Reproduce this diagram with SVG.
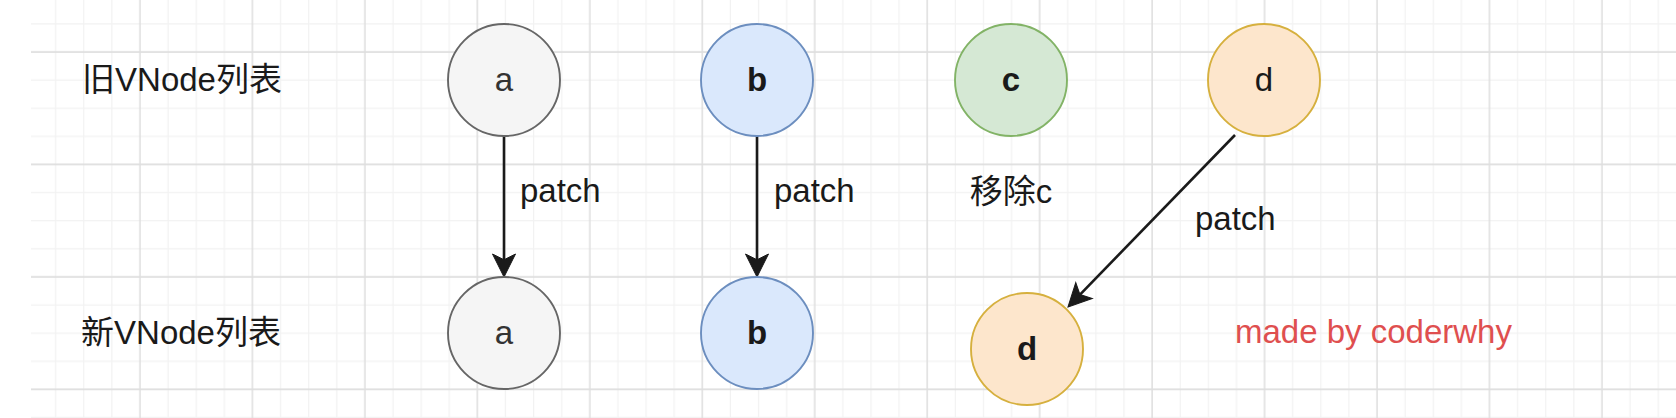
<svg xmlns="http://www.w3.org/2000/svg" width="1676" height="418" viewBox="0 0 1676 418">
<style>
text{font-family:"Liberation Sans","Noto Sans CJK SC",sans-serif;font-size:33px;fill:#1a1a1a}
.mid{text-anchor:middle}
.bold{font-weight:bold}
.ga{fill:#f5f5f5;stroke:#666666;stroke-width:1.9}
.gb{fill:#dae8fc;stroke:#6c8ebf;stroke-width:1.9}
.gc{fill:#d5e8d4;stroke:#82b366;stroke-width:1.9}
.gd{fill:#fde6cc;stroke:#d6b03e;stroke-width:1.9}
.ta{fill:#333333}
.edge{fill:none;stroke:#1a1a1a;stroke-width:2.6;marker-end:url(#arr)}
.minor{stroke:#f2f2f2;stroke-width:1.2}
.major{stroke:#dedede;stroke-width:1.5}
.red{fill:#df4f4f}
</style>
<defs>
<pattern id="grid" patternUnits="userSpaceOnUse" x="125.94" y="37.94" width="112.46" height="112.46">
<line class="minor" x1="42.17" y1="0" x2="42.17" y2="112.46"/>
<line class="minor" x1="70.29" y1="0" x2="70.29" y2="112.46"/>
<line class="minor" x1="98.4" y1="0" x2="98.4" y2="112.46"/>
<line class="minor" x1="0" y1="42.17" x2="112.46" y2="42.17"/>
<line class="minor" x1="0" y1="70.29" x2="112.46" y2="70.29"/>
<line class="minor" x1="0" y1="98.4" x2="112.46" y2="98.4"/>
<line class="major" x1="14.06" y1="0" x2="14.06" y2="112.46"/>
<line class="major" x1="0" y1="14.06" x2="112.46" y2="14.06"/>
</pattern>
<marker id="arr" markerUnits="userSpaceOnUse" orient="auto" overflow="visible" refX="0" refY="0" markerWidth="30" markerHeight="30">
<path d="M17.25,0 L-5.75,-11.5 L0,0 L-5.75,11.5 Z" fill="#1a1a1a" stroke="#1a1a1a" stroke-width="1" stroke-linejoin="miter"/>
</marker>
</defs>
<rect x="0" y="0" width="1676" height="418" fill="#ffffff"/>
<rect x="31" y="0" width="1645" height="418" fill="url(#grid)"/>

<g id="connectors">
<line class="edge" x1="504" y1="136" x2="504" y2="259.75"/>
<text x="520" y="202">patch</text>
<line class="edge" x1="757" y1="136" x2="757" y2="259.75"/>
<text x="774" y="202">patch</text>
<line class="edge" x1="1235" y1="135" x2="1080" y2="294.6"/>
<text x="1195" y="230">patch</text>
</g>

<g id="label-old"><text class="mid" x="182" y="91">旧VNode列表</text></g>
<g id="label-new"><text class="mid" x="181" y="344">新VNode列表</text></g>

<g id="node-a-old"><circle class="ga" cx="504" cy="80" r="56"/><text class="mid ta" x="504" y="91">a</text></g>
<g id="node-b-old"><circle class="gb" cx="757" cy="80" r="56"/><text class="mid bold" x="757" y="91">b</text></g>
<g id="node-c-old"><circle class="gc" cx="1011" cy="80" r="56"/><text class="mid bold" x="1011" y="91">c</text></g>
<g id="node-d-old"><circle class="gd" cx="1264" cy="80" r="56"/><text class="mid" x="1264" y="91">d</text></g>

<g id="node-a-new"><circle class="ga" cx="504" cy="333" r="56"/><text class="mid ta" x="504" y="344">a</text></g>
<g id="node-b-new"><circle class="gb" cx="757" cy="333" r="56"/><text class="mid bold" x="757" y="344">b</text></g>
<g id="node-d-new"><circle class="gd" cx="1027" cy="349" r="56"/><text class="mid bold" x="1027" y="360">d</text></g>

<g id="label-remove-c"><text class="mid" x="1011" y="203">移除c</text></g>
<g id="label-credit"><text class="red" x="1235" y="343">made by coderwhy</text></g>
</svg>
